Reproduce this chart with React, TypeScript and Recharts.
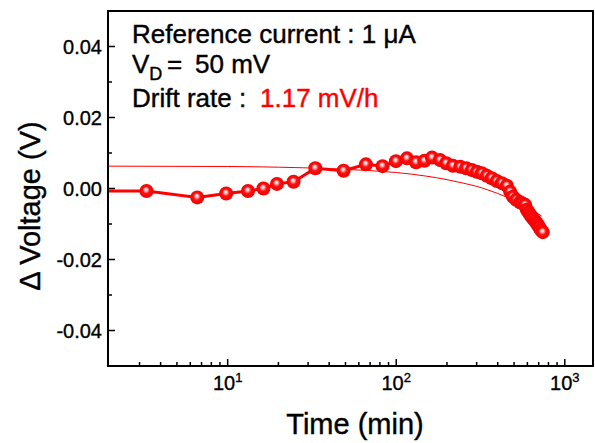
import React from 'react';
import { LineChart, Line, XAxis, YAxis, ReferenceArea } from 'recharts';

// measured drift data: time (min) and ΔV (V)
const timeMin = [1, 3.3, 6.6, 9.8, 13.2, 16.3, 19.6, 24.6, 33.1, 48.7, 66.1, 82.9, 99.6, 115.7, 131, 147, 163, 182, 198, 217, 240, 260, 281, 301, 322, 345, 369, 395, 423, 453, 474, 492, 515, 543, 560, 582, 595, 610, 623, 637, 652, 667, 682, 695, 707, 723, 740];
const deltaV = [-0.0007, -0.0007, -0.0025, -0.0014, -0.0007, 0.0, 0.0013, 0.0019, 0.0057, 0.005, 0.0068, 0.0063, 0.0077, 0.0085, 0.0074, 0.0078, 0.0087, 0.008, 0.0071, 0.0064, 0.0061, 0.0057, 0.0052, 0.0047, 0.0043, 0.0036, 0.0029, 0.0021, 0.0015, 0.0008, -0.0009, -0.0023, -0.0032, -0.0039, -0.0042, -0.0046, -0.006, -0.0067, -0.0074, -0.008, -0.0086, -0.0092, -0.0098, -0.0104, -0.011, -0.0117, -0.0123];

// linear drift fit
const fitTime = [1.95, 10, 20, 40, 60, 100, 150, 200, 250, 300, 350, 400, 450, 500, 550, 600, 650, 700, 730];
const fitV = [0.0063, 0.0062, 0.006, 0.0056, 0.0052, 0.0045, 0.0035, 0.0025, 0.0015, 0.0006, -0.0004, -0.0014, -0.0024, -0.0033, -0.0043, -0.0053, -0.0063, -0.0072, -0.0078];

const xMajorTicks = [10, 100, 1000];
const xMinorTicks = [3, 4, 5, 6, 7, 8, 9, 20, 30, 40, 50, 60, 70, 80, 90, 200, 300, 400, 500, 600, 700, 800, 900];
const yMajorTicks = [-0.04, -0.02, 0, 0.02, 0.04];
const yMinorTicks = [-0.03, -0.01, 0.01, 0.03];
const xDomain: [number, number] = [1.95, 1470];
const yDomain: [number, number] = [-0.05, 0.05];

const dataPts = timeMin.map((t, i) => ({ t, v: deltaV[i] }));
const fitPts = fitTime.map((t, i) => ({ t, v: fitV[i] }));
const xTicks = [...xMinorTicks, ...xMajorTicks].sort((a, b) => a - b);
const yTicks = [...yMinorTicks, ...yMajorTicks].sort((a, b) => a - b);

const FONT = '"Liberation Sans", Arial, Helvetica, sans-serif';
const RED = '#ff0000';
const Y_MARGIN = 6;
const X_MARGIN = 6;

function YTick(props: any) {
  const { x, y, payload } = props;
  const v = payload.value as number;
  const major = yMajorTicks.some((m) => Math.abs(m - v) < 1e-9);
  const ax = x + Y_MARGIN;
  return (
    <g>
      <line x1={ax} x2={ax + (major ? 7 : 4)} y1={y} y2={y} stroke="#000" strokeWidth={1.5} />
      {major && (
        <text x={x} y={y + 7} textAnchor="end" fontFamily={FONT} fontSize={20} fill="#000" stroke="#000" strokeWidth={0.35}>
          {v.toFixed(2)}
        </text>
      )}
    </g>
  );
}

function XTick(props: any) {
  const { x, y, payload } = props;
  const v = payload.value as number;
  const major = xMajorTicks.some((m) => Math.abs(m - v) < 1e-9);
  const ay = y - X_MARGIN;
  const exp = Math.round(Math.log10(v));
  return (
    <g>
      <line x1={x} x2={x} y1={ay} y2={ay - (major ? 7 : 4)} stroke="#000" strokeWidth={1.5} />
      {major && (
        <text x={x} y={ay + 24} textAnchor="middle" fontFamily={FONT} fontSize={20} fill="#000" stroke="#000" strokeWidth={0.35}>
          10
          <tspan dy={-8} fontSize={13}>
            {exp}
          </tspan>
        </text>
      )}
    </g>
  );
}

function SphereDot(props: any) {
  const { cx, cy, index } = props;
  if (cx == null || cy == null || isNaN(cx) || isNaN(cy)) return <g key={`d${index}`} />;
  const id = `sph${index}`;
  return (
    <g key={`d${index}`}>
      <defs>
        <radialGradient id={id} cx="0.5" cy="0.5" r="0.5" fx="0.45" fy="0.38">
          <stop offset="0" stopColor="#ffffff" />
          <stop offset="0.2" stopColor="#ffc0c0" />
          <stop offset="0.5" stopColor="#ff1010" />
          <stop offset="1" stopColor="#f00000" />
        </radialGradient>
      </defs>
      <circle cx={cx} cy={cy} r={7} fill={`url(#${id})`} />
    </g>
  );
}

export default function App() {
  return (
    <div style={{ position: 'absolute', left: 0, top: 0, width: 595, height: 443, background: '#fff' }}>
      <LineChart width={595} height={443} margin={{ top: 11, right: 2, bottom: 37, left: 0 }}>
        <XAxis
          dataKey="t"
          type="number"
          scale="log"
          domain={xDomain}
          allowDataOverflow
          ticks={xTicks}
          interval={0}
          tickSize={0}
          tickMargin={X_MARGIN}
          tick={<XTick />}
          tickLine={false}
          axisLine={{ stroke: '#000', strokeWidth: 2 }}
          height={40}
        />
        <YAxis
          dataKey="v"
          type="number"
          domain={yDomain}
          allowDataOverflow
          ticks={yTicks}
          interval={0}
          tickSize={0}
          tickMargin={Y_MARGIN}
          tick={<YTick />}
          tickLine={false}
          axisLine={{ stroke: '#000', strokeWidth: 2 }}
          width={108}
        />
        <ReferenceArea
          x1={xDomain[0]}
          x2={xDomain[1]}
          y1={yDomain[0]}
          y2={yDomain[1]}
          fill="none"
          stroke="#000"
          strokeWidth={2}
          ifOverflow="visible"
        />
        <Line
          data={fitPts}
          dataKey="v"
          type="monotone"
          stroke={RED}
          strokeWidth={1}
          dot={false}
          isAnimationActive={false}
        />
        <Line
          data={dataPts}
          dataKey="v"
          type="linear"
          stroke={RED}
          strokeWidth={3}
          dot={(p: any) => <SphereDot {...p} />}
          isAnimationActive={false}
        />
      </LineChart>
      <svg
        width={595}
        height={443}
        style={{ position: 'absolute', left: 0, top: 0, pointerEvents: 'none' }}
      >
        <g fontFamily={FONT} fill="#000" stroke="#000" strokeWidth={0.4}>
          <text x={132} y={43} fontSize={26}>Reference current : 1 μA</text>
          <text x={132} y={72.5} fontSize={26}>
            V
            <tspan fontSize={18} dy={7}>D</tspan>
            <tspan x={167} dy={-7}>=</tspan>
            <tspan x={195}>50 mV</tspan>
          </text>
          <text x={132} y={106.5} fontSize={26}>
            Drift rate :
            <tspan x={260} fill={RED} stroke={RED}>1.17 mV/h</tspan>
          </text>
          <text x={355} y={434} fontSize={29} textAnchor="middle">Time (min)</text>
          <text x={40} y={206} fontSize={29} textAnchor="middle" transform="rotate(-90 40 206)">
            Δ Voltage (V)
          </text>
        </g>
      </svg>
    </div>
  );
}
